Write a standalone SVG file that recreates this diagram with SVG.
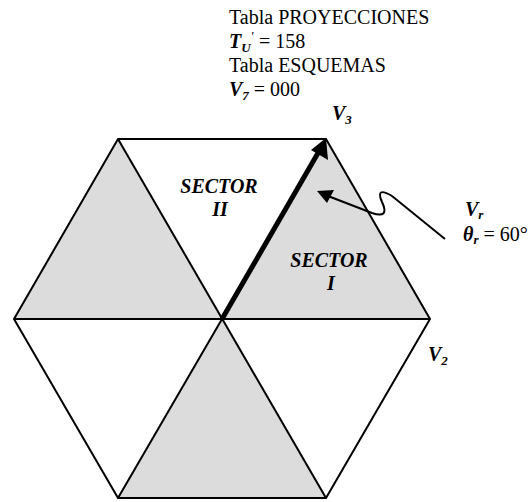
<svg xmlns="http://www.w3.org/2000/svg" width="531" height="502" viewBox="0 0 531 502">
<style>
.t{font-family:"Liberation Serif","DejaVu Serif","Times New Roman",serif;font-size:20px;fill:#000}
.bi{font-weight:bold;font-style:italic}
.sh{fill:#dcdcdc;stroke:none}
.ed{stroke:#000;stroke-width:2;fill:none;stroke-linejoin:miter}
</style>
<rect width="531" height="502" fill="#fff"/>
<g id="shading">
<polygon class="sh" points="222,319 430,319 326,139"/>
<polygon class="sh" points="222,319 118,139 14,319"/>
<polygon class="sh" points="222,319 118,498 326,498"/>
</g>
<g id="hexagon">
<polygon class="ed" points="430,319 326,139 118,139 14,319 118,498 326,498"/>
<line class="ed" x1="14" y1="319" x2="430" y2="319"/>
<line class="ed" x1="118" y1="139" x2="326" y2="498"/>
<line class="ed" x1="222" y1="319" x2="118" y2="498"/>
</g>
<g id="sector-1"><text class="t bi" text-anchor="middle"><tspan x="329" y="267">SECTOR</tspan><tspan x="331" y="290">I</tspan></text></g>
<g id="sector-2"><text class="t bi" text-anchor="middle"><tspan x="219" y="193">SECTOR</tspan><tspan x="220" y="216">II</tspan></text></g>
<g id="connectors">
<line x1="222" y1="319" x2="318" y2="153" stroke="#000" stroke-width="5"/>
<polygon points="326,138 328,160 311,150" fill="#000"/>
<path d="M 328 196 L 372 213 Q 390 219 382 202 Q 375 186 392 196 L 445 239" fill="none" stroke="#000" stroke-width="2"/>
<polygon points="317,191 334,190 327,203" fill="#000"/>
</g>
<g id="label-v3"><text class="t bi" x="332" y="120">V<tspan font-size="13" dy="4">3</tspan></text></g>
<g id="label-v2"><text class="t bi" x="428" y="361">V<tspan font-size="13" dy="4">2</tspan></text></g>
<g id="label-vr">
<text class="t bi" x="465" y="216">V<tspan font-size="13" dy="3">r</tspan></text>
<text class="t" x="463" y="241"><tspan class="bi">θ<tspan font-size="13" dy="3">r</tspan></tspan><tspan dy="-3"> = 60°</tspan></text>
</g>
<g id="info">
<text class="t" x="229" y="24">Tabla PROYECCIONES</text>
<text class="t" x="229" y="48"><tspan class="bi">T<tspan font-size="13" dy="4">U</tspan><tspan font-size="12" dy="-12">'</tspan></tspan><tspan dy="8"> = 158</tspan></text>
<text class="t" x="229" y="72">Tabla ESQUEMAS</text>
<text class="t" x="229" y="96"><tspan class="bi">V<tspan font-size="13" dy="4">7</tspan></tspan><tspan dy="-4"> = 000</tspan></text>
</g>
</svg>
